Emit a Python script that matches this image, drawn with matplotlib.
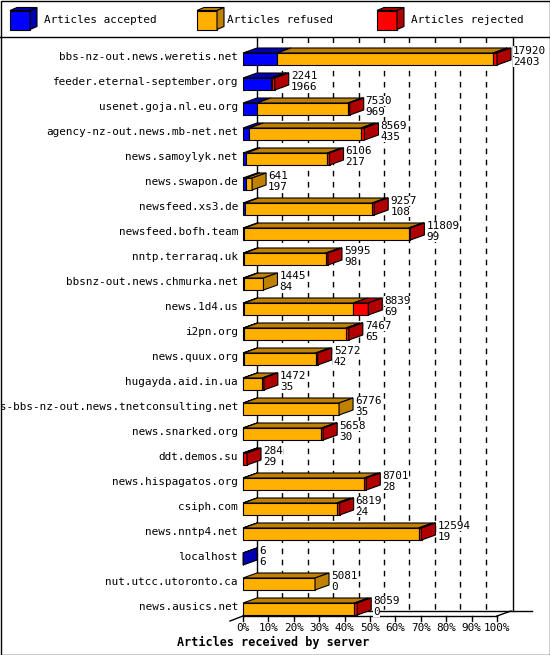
import matplotlib
matplotlib.use("Agg")
import matplotlib.pyplot as plt
from matplotlib.patches import Polygon, Rectangle

servers = ["bbs-nz-out.news.weretis.net", "feeder.eternal-september.org", "usenet.goja.nl.eu.org",
           "agency-nz-out.news.mb-net.net", "news.samoylyk.net", "news.swapon.de", "newsfeed.xs3.de",
           "newsfeed.bofh.team", "nntp.terraraq.uk", "bbsnz-out.news.chmurka.net", "news.1d4.us",
           "i2pn.org", "news.quux.org", "hugayda.aid.in.ua", "news-bbs-nz-out.news.tnetconsulting.net",
           "news.snarked.org", "ddt.demos.su", "news.hispagatos.org", "csiph.com", "news.nntp4.net",
           "localhost", "nut.utcc.utoronto.ca", "news.ausics.net"]
offered = [17920, 2241, 7530, 8569, 6106, 641, 9257, 11809, 5995, 1445, 8839, 7467, 5272, 1472,
           6776, 5658, 284, 8701, 6819, 12594, 6, 5081, 8059]
accepted = [2403, 1966, 969, 435, 217, 197, 108, 99, 98, 84, 69, 65, 42, 35, 35, 30, 29, 28, 24, 19, 6, 0, 0]
rejected = [280, 175, 120, 250, 150, 0, 150, 120, 150, 0, 1050, 200, 150, 120, 0, 120, 255, 150, 200, 200, 0, 0, 200]
refused = [o - a - r for o, a, r in zip(offered, accepted, rejected)]
legend_labels = ["Articles accepted", "Articles refused", "Articles rejected"]
xtick_labels = ["0%", "10%", "20%", "30%", "40%", "50%", "60%", "70%", "80%", "90%", "100%"]

front = ["#0000FF", "#FFB000", "#FF0000"]
shade = ["#0000B0", "#C08000", "#B00000"]

PXX, X0, Y0, ROW = 2.54, 243, 59, 25.0
def px(x): return (x - X0) / PXX
def py(y): return (y - Y0) / ROW
def dpx(d): return d / PXX
def dpy(d): return d / ROW

fig = plt.figure(figsize=(5.5, 6.55), dpi=100)
ax = fig.add_axes([0, 0, 1, 1])
ax.set_xlim(px(0), px(550)); ax.set_ylim(py(655), py(0)); ax.axis("off")
FONT = dict(family="DejaVu Sans Mono", fontsize=7.9)

# frame
ax.add_patch(Rectangle((px(0.5), py(0.5)), dpx(549), dpy(654), fill=False, lw=1, ec="black"))
ax.plot([px(0), px(550)], [py(37), py(37)], color="black", lw=1)

DX, DY = dpx(14), dpy(5)
ytop, yfloor = py(37), py(611)
ax.plot([px(257), px(257)], [ytop, yfloor], color="black", lw=1, zorder=1)
ax.plot([px(513), px(513)], [ytop, yfloor], color="black", lw=1, zorder=1)
for k in range(1, 10):
    ax.plot([10 * k + DX] * 2, [ytop, yfloor], color="black", lw=1, ls=(0, (4, 4)), zorder=1)
# floor
ax.plot([0, 100], [py(616), py(616)], color="black", lw=1, zorder=1)
ax.plot([DX, px(532)], [yfloor, yfloor], color="black", lw=1, zorder=1)
ax.plot([100, 100 + DX], [py(616), yfloor], color="black", lw=1, zorder=1)
ax.plot([0, DX], [py(616), yfloor], color="black", lw=1, zorder=1)
ax.plot([0, px(230)], [py(616), py(621)], color="black", lw=1, zorder=1)
for k, lab in enumerate(xtick_labels):
    ax.plot([10 * k] * 2, [py(616), py(621)], color="black", lw=1)
    ax.text(10 * k, py(628), lab, ha="center", va="center", **FONT)
ax.text(px(273), py(642), "Articles received by server", ha="center", va="center",
        fontweight="bold", family="DejaVu Sans Mono", fontsize=8.5)

H = dpy(12)
mx = max(offered)
def box(x0, x1, yc, fc, sc, side, h=H, dx=DX, dy=DY, z=3):
    yt, yb = yc - h / 2, yc + h / 2
    if x1 > x0:
        ax.add_patch(Rectangle((x0, yt), x1 - x0, h, fc=fc, ec="black", lw=0.8, zorder=z))
    ax.add_patch(Polygon([(x0, yt), (x1, yt), (x1 + dx, yt - dy), (x0 + dx, yt - dy)],
                         fc=sc, ec="black", lw=0.8, zorder=z))
    if side:
        ax.add_patch(Polygon([(x1, yt), (x1 + dx, yt - dy), (x1 + dx, yb - dy), (x1, yb)],
                             fc=sc, ec="black", lw=0.8, zorder=z))

BB = dict(facecolor="white", edgecolor="none", pad=0.3)
for i, s in enumerate(servers):
    vals = [accepted[i], refused[i], rejected[i]]
    segs = [(j, v) for j, v in enumerate(vals) if v > 0]
    x = 0.0
    for n, (j, v) in enumerate(segs):
        w = v / mx * 100
        box(x, x + w, i, front[j], shade[j], n == len(segs) - 1, z=3 + 0.01 * i)
        x += w
    ax.text(px(238), i - dpy(2), s, ha="right", va="center", **FONT)
    xt = x + DX + dpx(2)
    ax.text(xt, i - dpy(8), str(offered[i]), ha="left", va="center", zorder=5, bbox=BB, **FONT)
    ax.text(xt, i + dpy(3), str(accepted[i]), ha="left", va="center", zorder=5, bbox=BB, **FONT)

# legend
for j, (lx, tx) in enumerate([(10, 44), (197, 227), (377, 411)]):
    yc = py(20)
    box(px(lx), px(lx + 20), yc, front[j], shade[j], True, h=dpy(19), dx=dpx(7), dy=dpy(3))
    ax.text(px(tx), yc, legend_labels[j], ha="left", va="center", **FONT)

fig.savefig("out.png", dpi=100)
